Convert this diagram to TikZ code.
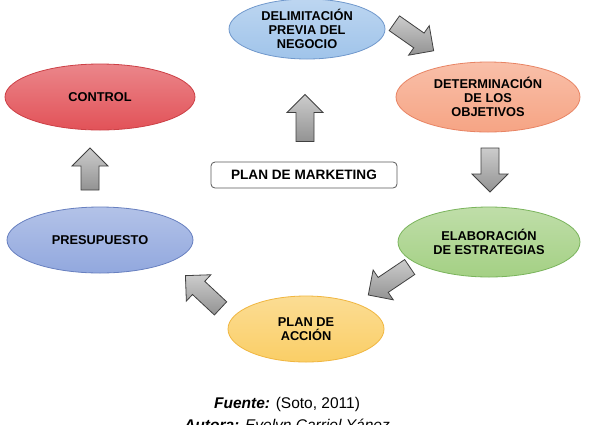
\documentclass[tikz,border=0pt]{standalone}
\usepackage{fontspec}
\setmainfont{Liberation Sans}
\usetikzlibrary{shapes.geometric}
\definecolor{blueF}{RGB}{160,196,234}
\definecolor{blueD}{RGB}{112,152,204}
\definecolor{salF}{RGB}{246,164,132}
\definecolor{salD}{RGB}{232,132,100}
\definecolor{redF}{RGB}{226,82,88}
\definecolor{redD}{RGB}{204,64,70}
\definecolor{periF}{RGB}{146,168,222}
\definecolor{periD}{RGB}{104,128,192}
\definecolor{greenF}{RGB}{164,208,132}
\definecolor{greenD}{RGB}{122,180,92}
\definecolor{yelF}{RGB}{250,206,102}
\definecolor{yelD}{RGB}{240,182,64}
\tikzset{
  ell/.style 2 args={ellipse, draw=#2, line width=0.8pt, top color=#1!70!white, bottom color=#1,
    inner sep=0pt, align=center, font=\bfseries\fontsize{12.8}{14}\selectfont},
  barrow/.style={draw=black!75, line width=0.8pt, top color=gray!40, bottom color=gray!85, line join=miter},
  mbox/.style={draw=gray!70!black, line width=0.8pt, rounded corners=4pt, fill=white, inner sep=0pt,
    font=\bfseries\fontsize{13.6}{15}\selectfont},
  captext/.style={anchor=base, font=\fontsize{15.5}{18}\selectfont}
}
\newcommand\blockarr[4]{%
  \begin{scope}[shift={(#1,#2)},rotate=#3]
    \path[barrow] ({-#4/2},-9) -- ({#4/2-18},-9) -- ({#4/2-18},-18) -- ({#4/2},0)
      -- ({#4/2-18},18) -- ({#4/2-18},9) -- ({-#4/2},9) -- cycle;
  \end{scope}}
\begin{document}
\begin{tikzpicture}[x=1pt,y=-1pt]
\useasboundingbox (0,0) rectangle (589,424);
\clip (0,0) rectangle (589,424);
\fill[white] (0,0) rectangle (589,424);
% ellipses
\node[ell={blueF}{blueD}, minimum width=156pt, minimum height=60pt] (delim) at (307,29) {DELIMITACIÓN\\PREVIA DEL\\NEGOCIO};
\node[ell={salF}{salD}, minimum width=184pt, minimum height=70pt] (determ) at (488,97) {DETERMINACIÓN\\DE LOS\\OBJETIVOS};
\node[ell={redF}{redD}, minimum width=190pt, minimum height=66pt] (control) at (100,97) {CONTROL};
\node[ell={periF}{periD}, minimum width=186pt, minimum height=66pt] (presup) at (100,240) {PRESUPUESTO};
\node[ell={greenF}{greenD}, minimum width=182pt, minimum height=70pt] (elab) at (489,242) {ELABORACIÓN\\DE ESTRATEGIAS};
\node[ell={yelF}{yelD}, minimum width=156pt, minimum height=66pt] (accion) at (306,329) {PLAN DE\\ACCIÓN};
% central box
\node[mbox, minimum width=186pt, minimum height=26pt] (plan) at (304,175) {PLAN DE MARKETING};
% block arrows
\blockarr{305}{118}{90}{47}
\blockarr{414}{37}{-35}{48}
\blockarr{490}{170}{-90}{44}
\blockarr{389}{281}{214}{50}
\blockarr{203}{292}{137}{48}
\blockarr{90}{169}{90}{42}
% captions
\node[captext] (fuente) at (287,408) {\textbf{\textit{Fuente:}} (Soto, 2011)};
\node[captext] (autora) at (287,430) {\textbf{\textit{Autora:}} \textit{Evelyn Carriel Yánez}};
\end{tikzpicture}
\end{document}
